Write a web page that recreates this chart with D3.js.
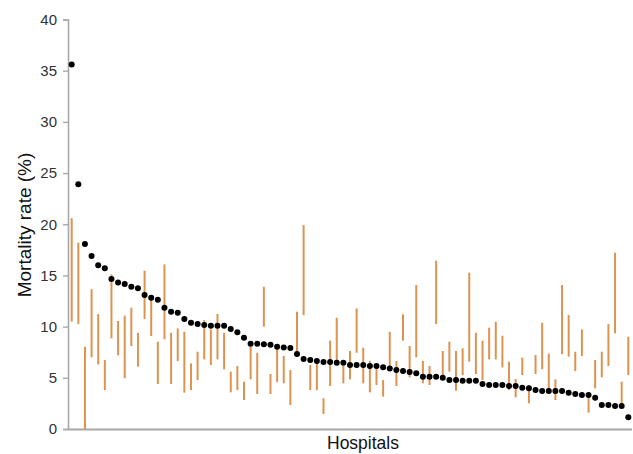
<!DOCTYPE html>
<html>
<head>
<meta charset="utf-8">
<script src="https://cdn.jsdelivr.net/npm/d3@7"></script>
<style>
  html, body { margin: 0; padding: 0; background: #fff; }
  svg { display: block; }
</style>
</head>
<body>
<svg id="chart" width="633" height="454"></svg>
<script>
// Hospitals ordered by observed mortality rate (%)
const hospitals = d3.range(1, 86).map(i => "H" + i);
const rate = [35.6, 23.9, 18.07, 16.9, 16.0, 15.7, 14.65, 14.3, 14.16, 13.9,
  13.74, 13.09, 12.83, 12.63, 11.85, 11.46, 11.36, 10.74, 10.38, 10.25,
  10.15, 10.09, 10.09, 10.09, 9.77, 9.44, 8.92, 8.33, 8.33, 8.27,
  8.24, 8.04, 7.95, 7.91, 7.32, 6.84, 6.74, 6.64, 6.54, 6.54,
  6.48, 6.48, 6.25, 6.25, 6.25, 6.15, 6.15, 6.02, 5.92, 5.76,
  5.66, 5.57, 5.44, 5.11, 5.11, 5.11, 5.01, 4.78, 4.78, 4.72,
  4.72, 4.72, 4.39, 4.30, 4.30, 4.30, 4.2, 4.2, 4.04, 3.97,
  3.8, 3.71, 3.71, 3.71, 3.71, 3.55, 3.42, 3.32, 3.32, 3.06,
  2.34, 2.34, 2.24, 2.24, 1.14];
const low = [10.5, 10.25, 0, 7.0, 6.3, 3.8, 8.85, 7.2, 4.95, 8.1,
  6.09, 10.74, 9.08, 4.39, 8.76, 4.39, 6.64, 3.55, 3.8, 4.78,
  6.8, 6.25, 6.8, 5.83, 3.58, 3.8, 2.83, 4.85, 3.42, 10.0,
  3.42, 4.59, 4.46, 2.34, 7.55, 11.13, 3.8, 3.8, 1.46, 4.2,
  6.57, 4.46, 4.85, 7.45, 4.46, 3.58, 4.3, 3.16, 6.09, 4.2,
  8.63, 5.05, 7.0, 4.46, 4.3, 10.25, 5.18, 5.6, 3.74, 5.27,
  6.57, 5.37, 4.78, 6.8, 6.8, 6.02, 3.8, 3.09, 5.27, 2.51,
  5.37, 5.83, 3.8, 2.83, 7.32, 7.06, 5.66, 7.13, 1.6, 3.97,
  5.05, 6.15, 9.34, 2.51, 5.27];
const high = [20.6, 18.2, 8.04, 13.67, 11.23, 6.74, 15.1, 10.55, 11.07, 11.85,
  9.4, 15.46, 12.92, 8.53, 16.08, 9.4, 9.83, 9.5, 6.41, 7.55,
  10.64, 9.73, 11.23, 9.4, 5.6, 6.15, 4.62, 8.04, 7.45, 13.9,
  5.37, 8.04, 7.13, 5.76, 11.46, 19.92, 6.25, 6.48, 3.0, 8.63,
  10.87, 6.15, 7.62, 11.78, 7.94, 6.64, 6.02, 4.78, 9.5, 6.64,
  11.2, 8.1, 14.06, 6.64, 6.15, 16.44, 7.62, 8.53, 7.62, 7.88,
  15.27, 9.4, 8.63, 9.9, 10.48, 9.11, 6.57, 4.88, 6.97, 4.3,
  7.23, 10.38, 7.36, 4.85, 14.06, 11.13, 7.55, 9.73, 3.16, 6.74,
  7.55, 10.25, 17.22, 4.62, 9.01];
const yTicks = [0, 5, 10, 15, 20, 25, 30, 35, 40];

const data = hospitals.map((h, i) => ({ h, rate: rate[i], low: low[i], high: high[i] }));

const svg = d3.select("#chart");
const axisX0 = 68, plotRight = 632, yTop = 19.5, yBottom = 429;

const x = d3.scalePoint().domain(hospitals).range([71.7, 628.3]);
const y = d3.scaleLinear().domain([0, 40]).range([yBottom, yTop]);

// x-axis baseline
svg.append("line")
  .attr("x1", axisX0).attr("x2", plotRight)
  .attr("y1", yBottom + 0.5).attr("y2", yBottom + 0.5)
  .attr("stroke", "#a8a8a8").attr("stroke-width", 2);

// y-axis
const yAxis = svg.append("g")
  .attr("transform", `translate(${axisX0},0)`)
  .call(d3.axisLeft(y).tickValues(yTicks).tickSize(5).tickPadding(6));
yAxis.select(".domain").attr("stroke", "#a8a8a8").attr("stroke-width", 1.6);
yAxis.selectAll(".tick line").attr("stroke", "#a8a8a8").attr("stroke-width", 1.4);
yAxis.selectAll(".tick text")
  .attr("font-family", "Liberation Sans, Arial, sans-serif")
  .attr("font-size", 15).attr("fill", "#333");

// range lines
svg.append("g").selectAll("line").data(data).join("line")
  .attr("x1", d => x(d.h)).attr("x2", d => x(d.h))
  .attr("y1", d => y(d.low)).attr("y2", d => y(d.high))
  .attr("stroke", "#dc9350").attr("stroke-width", 2);

// points
svg.append("g").selectAll("circle").data(data).join("circle")
  .attr("cx", d => x(d.h)).attr("cy", d => y(d.rate))
  .attr("r", 3).attr("fill", "#000");

// axis titles
svg.append("text")
  .attr("transform", "translate(31,225) rotate(-90)")
  .attr("text-anchor", "middle")
  .attr("font-family", "Liberation Sans, Arial, sans-serif")
  .attr("font-size", 19).attr("fill", "#111")
  .text("Mortality rate (%)");

svg.append("text")
  .attr("x", 363).attr("y", 449)
  .attr("text-anchor", "middle")
  .attr("font-family", "Liberation Sans, Arial, sans-serif")
  .attr("font-size", 17.5).attr("fill", "#111")
  .text("Hospitals");
</script>
</body>
</html>
